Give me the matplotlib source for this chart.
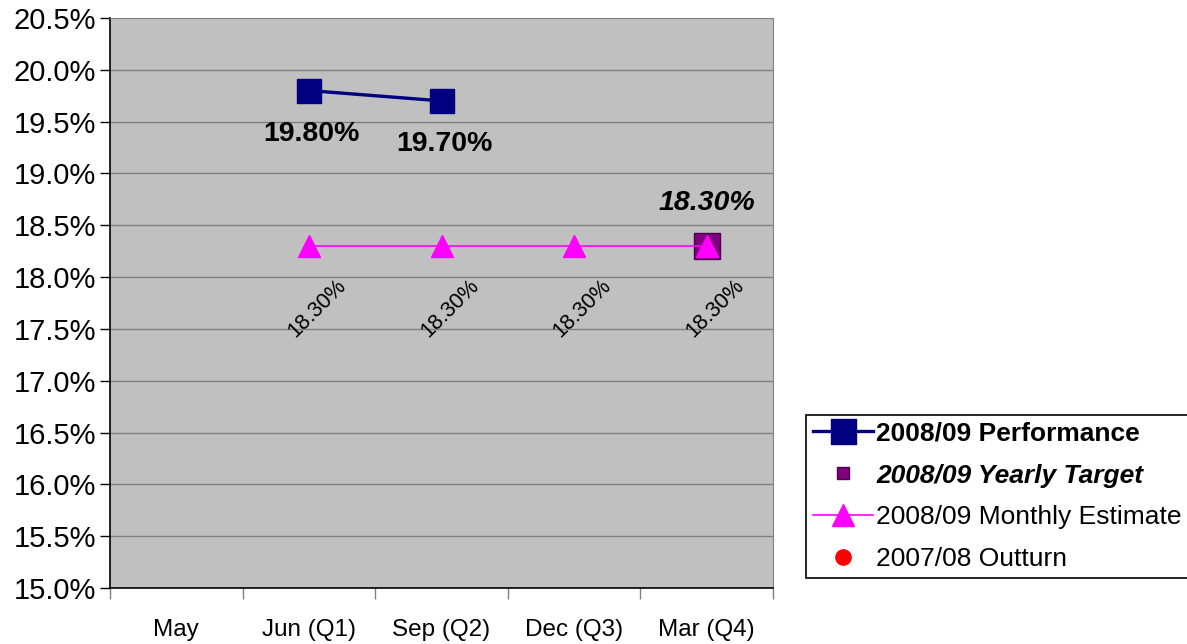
import numpy as np
import matplotlib.pyplot as plt
from matplotlib.ticker import FixedLocator, FuncFormatter

plt.rcParams['font.family'] = ['Liberation Sans', 'DejaVu Sans']

# chart data
categories = ['May', 'Jun (Q1)', 'Sep (Q2)', 'Dec (Q3)', 'Mar (Q4)']
perf_idx = [1, 2]
perf_vals = [19.80, 19.70]
target_idx = [4]
target_vals = [18.30]
estimate_idx = [1, 2, 3, 4]
estimate_vals = [18.30, 18.30, 18.30, 18.30]
outturn_idx = []
outturn_vals = []
y_ticks = np.arange(15.0, 20.51, 0.5)

W, H = 1187, 644
fig = plt.figure(figsize=(W / 100, H / 100), dpi=100)
ax = fig.add_axes([110 / W, 56 / H, 663 / W, 570 / H])
ax.set_facecolor('#C0C0C0')

ax.set_xlim(-0.5, len(categories) - 0.5)
ax.set_ylim(15.0, 20.5)

# grid
for y in y_ticks[1:-1]:
    ax.axhline(y, color='#808080', lw=1, zorder=1)

# series
ax.plot(perf_idx, perf_vals, color='#000080', lw=2.4, marker='s', ms=17,
        zorder=4, label='2008/09 Performance')
ax.plot(target_idx, target_vals, ls='none', marker='s', ms=19, color='#800080',
        mec='#4B004B', mew=1, zorder=3, label='2008/09 Yearly Target')
ax.plot(estimate_idx, estimate_vals, color='#FF00FF', lw=1.2, marker='^', ms=16,
        zorder=5, label='2008/09 Monthly Estimate')
ax.plot(outturn_idx, outturn_vals, ls='none', marker='o', ms=10, color='#FF0000',
        label='2007/08 Outturn')

# data labels
for x, v in zip(perf_idx, perf_vals):
    ax.annotate(f'{v:.2f}%', (x, v), xytext=(2, -31), textcoords='offset points',
                ha='center', va='center', fontsize=20.5, fontweight='bold', zorder=6)
for x, v in zip(target_idx, target_vals):
    ax.annotate(f'{v:.2f}%', (x, v), xytext=(0, 31), textcoords='offset points',
                ha='center', va='center', fontsize=20.5, fontweight='bold',
                fontstyle='italic', zorder=6)
for x, v in zip(estimate_idx, estimate_vals):
    ax.annotate(f'{v:.2f}%', (x, v), xytext=(6, -45), textcoords='offset points',
                ha='center', va='center', fontsize=15.5, rotation=45, zorder=6)

# axes styling
for s in ['top', 'right']:
    ax.spines[s].set_color('#808080')
for s in ['left', 'bottom']:
    ax.spines[s].set_color('black')
    ax.spines[s].set_linewidth(1.2)

ax.set_yticks(y_ticks)
ax.yaxis.set_major_formatter(FuncFormatter(lambda v, p: f'{v:.1f}%'))
ax.tick_params(axis='y', length=7, width=1, labelsize=21, pad=3)

ax.set_xticks(range(len(categories)))
ax.set_xticklabels(categories, fontsize=17.5)
ax.xaxis.set_minor_locator(FixedLocator(np.arange(-0.5, len(categories), 1.0)))
ax.tick_params(axis='x', which='major', length=0, pad=22)
ax.tick_params(axis='x', which='minor', length=8, width=1, color='#808080')

# legend
leg = fig.legend(loc='upper left', bbox_to_anchor=(806 / W, 1 - 415 / H),
                 fontsize=19, frameon=True, fancybox=False, framealpha=1,
                 edgecolor='black', borderpad=0.25, labelspacing=0.68,
                 handlelength=2.3, handletextpad=0.1, borderaxespad=0)
leg.get_frame().set_linewidth(1.2)
handles = leg.legend_handles
handles[0].set_markersize(18)
handles[1].set_markersize(9)
handles[3].set_markersize(11)
texts = leg.get_texts()
texts[0].set_fontweight('bold')
texts[1].set_fontweight('bold')
texts[1].set_fontstyle('italic')

fig.savefig('out.png', dpi=100)
